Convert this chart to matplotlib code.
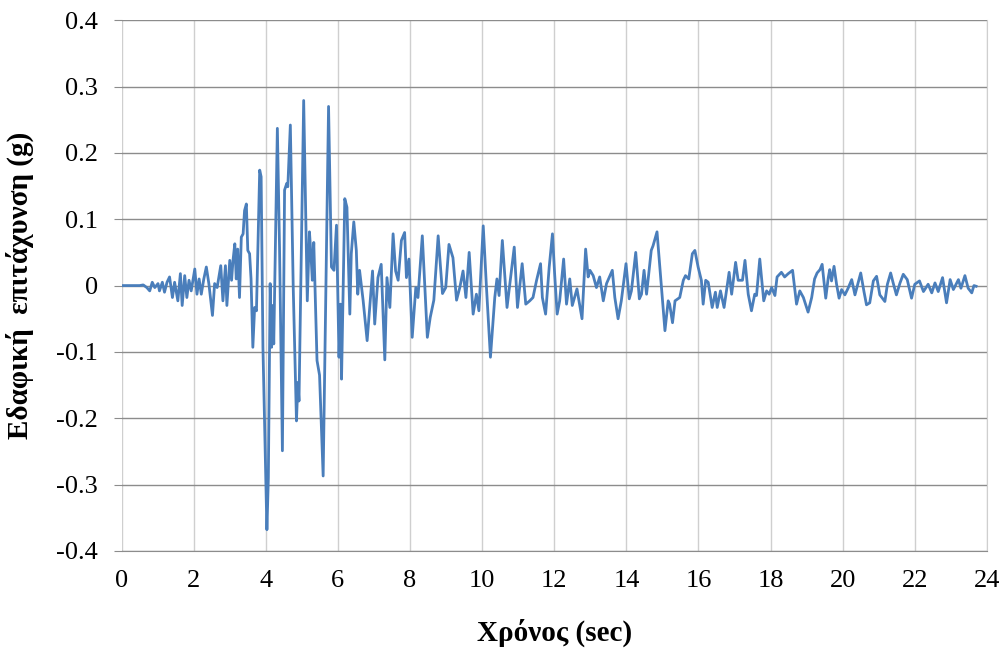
import matplotlib
matplotlib.use("Agg")
import matplotlib.pyplot as plt
import numpy as np

# time (sec) and ground acceleration (g)
t = [
    0.0, 0.5, 0.6, 0.7, 0.78, 0.85, 0.92, 1.01, 1.05, 1.13, 1.19, 1.26, 1.33, 1.41,
    1.47, 1.56, 1.63, 1.68, 1.75, 1.81, 1.87, 1.93, 2.03, 2.09, 2.15, 2.21, 2.28,
    2.35, 2.42, 2.52, 2.58, 2.65, 2.75, 2.81, 2.88, 2.92, 3.0, 3.05, 3.09, 3.14,
    3.18, 3.22, 3.27, 3.32, 3.37, 3.41, 3.46, 3.5, 3.55, 3.59, 3.64, 3.69, 3.74,
    3.83, 3.87, 3.92, 4.03, 4.07, 4.12, 4.16, 4.19, 4.22, 4.32, 4.38, 4.46, 4.52,
    4.58, 4.61, 4.68, 4.76, 4.85, 4.89, 4.92, 5.05, 5.15, 5.21, 5.25, 5.29, 5.33,
    5.42, 5.49, 5.59, 5.74, 5.82, 5.89, 5.96, 6.03, 6.07, 6.1, 6.19, 6.25, 6.33,
    6.37, 6.44, 6.51, 6.55, 6.6, 6.7, 6.81, 6.96, 7.02, 7.11, 7.2, 7.3, 7.36,
    7.44, 7.53, 7.6, 7.67, 7.76, 7.85, 7.9, 7.97, 8.06, 8.16, 8.22, 8.34, 8.48,
    8.56, 8.66, 8.78, 8.9, 8.99, 9.08, 9.19, 9.29, 9.38, 9.47, 9.55, 9.64, 9.75,
    9.84, 9.91, 10.03, 10.12, 10.23, 10.35, 10.41, 10.47, 10.56, 10.69, 10.77,
    10.89, 10.98, 11.11, 11.21, 11.32, 11.41, 11.51, 11.62, 11.67, 11.76, 11.86,
    11.95, 12.01, 12.08, 12.15, 12.26, 12.34, 12.43, 12.5, 12.63, 12.77, 12.87,
    12.94, 12.99, 13.08, 13.17, 13.26, 13.36, 13.45, 13.61, 13.68, 13.77, 13.86,
    13.99, 14.08, 14.14, 14.26, 14.36, 14.42, 14.49, 14.56, 14.69, 14.74, 14.85,
    14.95, 15.07, 15.16, 15.2, 15.28, 15.35, 15.48, 15.58, 15.64, 15.73, 15.83,
    15.9, 15.99, 16.08, 16.13, 16.2, 16.27, 16.38, 16.47, 16.52, 16.61, 16.71,
    16.85, 16.92, 17.03, 17.1, 17.22, 17.29, 17.38, 17.47, 17.56, 17.61, 17.7,
    17.81, 17.89, 17.96, 18.03, 18.12, 18.18, 18.3, 18.39, 18.49, 18.61, 18.72,
    18.81, 18.91, 19.04, 19.14, 19.22, 19.29, 19.37, 19.43, 19.48, 19.53, 19.6,
    19.64, 19.69, 19.76, 19.83, 19.9, 19.97, 20.06, 20.15, 20.25, 20.34, 20.5,
    20.59, 20.66, 20.75, 20.85, 20.94, 21.03, 21.17, 21.24, 21.33, 21.4, 21.49,
    21.59, 21.68, 21.79, 21.91, 22.0, 22.13, 22.24, 22.37, 22.47, 22.56, 22.65,
    22.77, 22.88, 22.98, 23.07, 23.21, 23.28, 23.39, 23.48, 23.58, 23.64, 23.7,
]
acc = [
    0.0, 0.0, 0.001, -0.003, -0.008, 0.005, -0.003, 0.003, -0.008, 0.005, -0.01,
    0.005, 0.013, -0.018, 0.005, -0.023, 0.018, -0.03, 0.015, -0.018, 0.008,
    -0.008, 0.025, -0.013, 0.01, -0.013, 0.01, 0.028, 0.003, -0.045, 0.003,
    -0.003, 0.03, -0.023, 0.03, -0.03, 0.038, 0.008, 0.038, 0.063, 0.01, 0.055,
    -0.018, 0.073, 0.078, 0.113, 0.123, 0.053, 0.048, 0.01, -0.093, -0.033,
    -0.038, 0.174, 0.164, -0.093, -0.368, -0.29, 0.003, -0.093, -0.03, -0.088,
    0.237, 0.058, -0.249, 0.144, 0.154, 0.149, 0.242, -0.003, -0.204, -0.146,
    -0.174, 0.279, -0.023, 0.081, 0.048, 0.008, 0.065, -0.113, -0.135, -0.287,
    0.27, 0.028, 0.023, 0.091, -0.108, -0.028, -0.141, 0.131, 0.118, -0.043,
    0.048, 0.096, 0.053, -0.013, 0.023, -0.023, -0.083, 0.022, -0.058, 0.012,
    0.032, -0.112, 0.012, -0.033, 0.078, 0.022, 0.008, 0.068, 0.08, 0.012,
    0.04, -0.078, -0.003, -0.018, 0.075, -0.078, -0.048, -0.022, 0.075, -0.012,
    -0.003, 0.062, 0.042, -0.022, -0.003, 0.022, -0.018, 0.05, -0.043, -0.013,
    -0.038, 0.09, -0.003, -0.108, -0.018, 0.01, -0.015, 0.068, -0.033, 0.003,
    0.058, -0.033, 0.033, -0.028, -0.023, -0.018, 0.008, 0.033, -0.018, -0.043,
    0.028, 0.078, 0.018, -0.043, -0.023, 0.04, -0.028, 0.01, -0.03, -0.005,
    -0.05, 0.055, 0.013, 0.023, 0.015, -0.003, 0.013, -0.023, 0.003, 0.023,
    -0.018, -0.05, -0.023, 0.033, -0.02, -0.008, 0.05, -0.02, -0.013, 0.023,
    -0.013, 0.053, 0.06, 0.081, 0.013, -0.068, -0.023, -0.028, -0.056, -0.023,
    -0.018, 0.008, 0.015, 0.01, 0.048, 0.053, 0.028, 0.008, -0.028, 0.008,
    0.005, -0.033, -0.01, -0.033, -0.008, -0.033, 0.02, -0.013, 0.035, 0.008,
    0.008, 0.038, -0.013, -0.038, -0.013, -0.015, 0.04, -0.023, -0.008, -0.013,
    -0.003, -0.015, 0.013, 0.02, 0.013, 0.018, 0.023, -0.028, -0.008, -0.018,
    -0.04, -0.018, 0.01, 0.019, 0.024, 0.032, 0.007, -0.019, 0.012, 0.024,
    0.007, 0.029, 0.002, -0.019, -0.006, -0.014, -0.004, 0.009, -0.014, 0.019,
    -0.009, -0.029, -0.026, 0.007, 0.014, -0.014, -0.024, 0.002, 0.019, 0.004,
    -0.014, 0.004, 0.017, 0.009, -0.019, 0.002, 0.007, -0.009, 0.002, -0.011,
    0.004, -0.009, 0.012, -0.026, 0.009, -0.006, 0.009, -0.004, 0.015, -0.004,
    -0.011, 0.0, -0.001,
]

x_ticks = np.arange(0, 25, 2)
y_ticks = np.round(np.arange(-0.4, 0.41, 0.1), 1)

plt.rcParams['font.family'] = ['Liberation Serif', 'DejaVu Serif']

fig = plt.figure(figsize=(10.05, 6.52), dpi=100)
ax = fig.add_axes([0.121, 0.155, 0.861, 0.814])

ax.plot(t, acc, color='#4A7EBB', linewidth=2.0, zorder=3)

ax.set_xlim(0, 24)
ax.set_ylim(-0.4, 0.4)
ax.set_xticks(x_ticks)
ax.set_yticks(y_ticks)
ax.set_yticklabels(['0' if v == 0 else f'{v:.1f}' for v in y_ticks])

# Excel-like grid: darker horizontals, lighter verticals
ax.grid(axis='y', color='#8c8c8c', linewidth=1.0)
ax.grid(axis='x', color='#cfcfcf', linewidth=1.0)
ax.set_axisbelow(True)

for side in ['left', 'top']:
    ax.spines[side].set_visible(False)
ax.spines['bottom'].set_color('#8c8c8c')
ax.spines['right'].set_color('#cfcfcf')

ax.tick_params(axis='y', length=6, color='#8c8c8c', pad=11, labelsize=19)
ax.tick_params(axis='x', length=0, pad=14, labelsize=19)

ax.set_xlabel('Χρόνος (sec)', fontsize=21, fontweight='bold', labelpad=19)
ax.set_ylabel('Εδαφική  επιτάχυνση (g)', fontsize=21, fontweight='bold', labelpad=16)

fig.savefig('out.png', dpi=100)
